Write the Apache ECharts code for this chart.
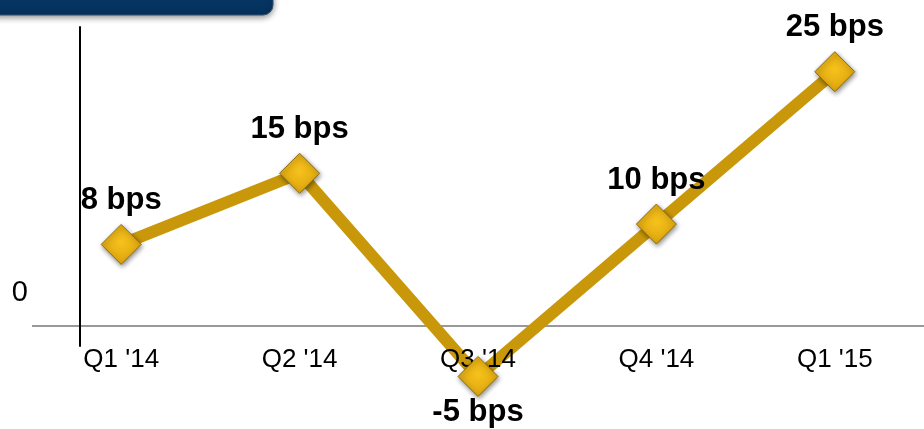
<!DOCTYPE html>
<html>
<head>
<meta charset="utf-8">
<script src="https://cdn.jsdelivr.net/npm/echarts@6/dist/echarts.min.js"></script>
<style>
  html, body { margin: 0; padding: 0; background: #fff; }
  #main { width: 924px; height: 429px; }
</style>
</head>
<body>
<div id="main"></div>
<script>
// 数据
var quarters = ["Q1 '14", "Q2 '14", "Q3 '14", "Q4 '14", "Q1 '15"];
var bpsValues = [8, 15, -5, 10, 25];
var zeroTick = [0];

var myChart = echarts.init(document.getElementById('main'));

// 菱形点的样式
var diamondStyle = {
    opacity: 1,
    color: new echarts.graphic.RadialGradient(0.5, 0.45, 0.6, [
        { offset: 0, color: '#f6c21c' },
        { offset: 1, color: '#d9a10c' }
    ]),
    borderColor: '#8c6d14',
    borderWidth: 1,
    shadowBlur: 5,
    shadowColor: 'rgba(0,0,0,0.45)',
    shadowOffsetX: 1,
    shadowOffsetY: 2
};

myChart.setOption({
    animation: false,
    textStyle: { fontFamily: 'Arial, "Liberation Sans", sans-serif' },
    graphic: [
        {
            type: 'rect',
            shape: { x: -12, y: -20, width: 285, height: 35, r: 10 },
            style: {
                fill: new echarts.graphic.LinearGradient(0, 0, 0, 1, [
                    { offset: 0, color: '#0a3d6e' },
                    { offset: 1, color: '#04305b' }
                ]),
                stroke: '#34506e',
                lineWidth: 1,
                shadowBlur: 6,
                shadowOffsetY: 2,
                shadowColor: 'rgba(0,0,0,0.45)'
            }
        }
    ],
    grid: {
        left: 32,
        width: 897,
        top: 27,
        bottom: 83
    },
    xAxis: {
        type: 'category',
        data: quarters,
        boundaryGap: true,
        z: 3,
        axisLine: { show: false },
        axisTick: { show: false },
        axisLabel: { color: '#000', fontSize: 26, margin: 1 },
        splitLine: { show: false }
    },
    yAxis: {
        type: 'value',
        min: -2,
        max: 29.4,
        offset: -48,
        axisLine: { show: true, lineStyle: { color: '#000', width: 2 } },
        axisTick: { show: false, customValues: zeroTick },
        // 零线
        splitLine: { show: true, lineStyle: { color: '#999', width: 2 } },
        axisLabel: {
            customValues: zeroTick,
            color: '#000',
            fontSize: 29,
            margin: 52,
            verticalAlign: 'bottom',
            padding: [0, 0, 18, 0]
        }
    },
    series: [
        {
            type: 'line',
            data: bpsValues,
            clip: false,
            z: 2,
            lineStyle: { color: '#c9980a', width: 12 },
            symbol: 'none'
        },
        {
            type: 'scatter',
            data: bpsValues.map(function (v) {
                return v < 0
                    ? { value: v, label: { position: 'bottom', distance: 0 } }
                    : v;
            }),
            clip: false,
            z: 5,
            symbol: 'diamond',
            symbolSize: 40,
            itemStyle: diamondStyle,
            label: {
                show: true,
                position: 'top',
                distance: 8,
                color: '#000',
                fontSize: 31,
                fontWeight: 'bold',
                formatter: function (p) { return p.value + ' bps'; }
            }
        }
    ]
});
</script>
</body>
</html>
